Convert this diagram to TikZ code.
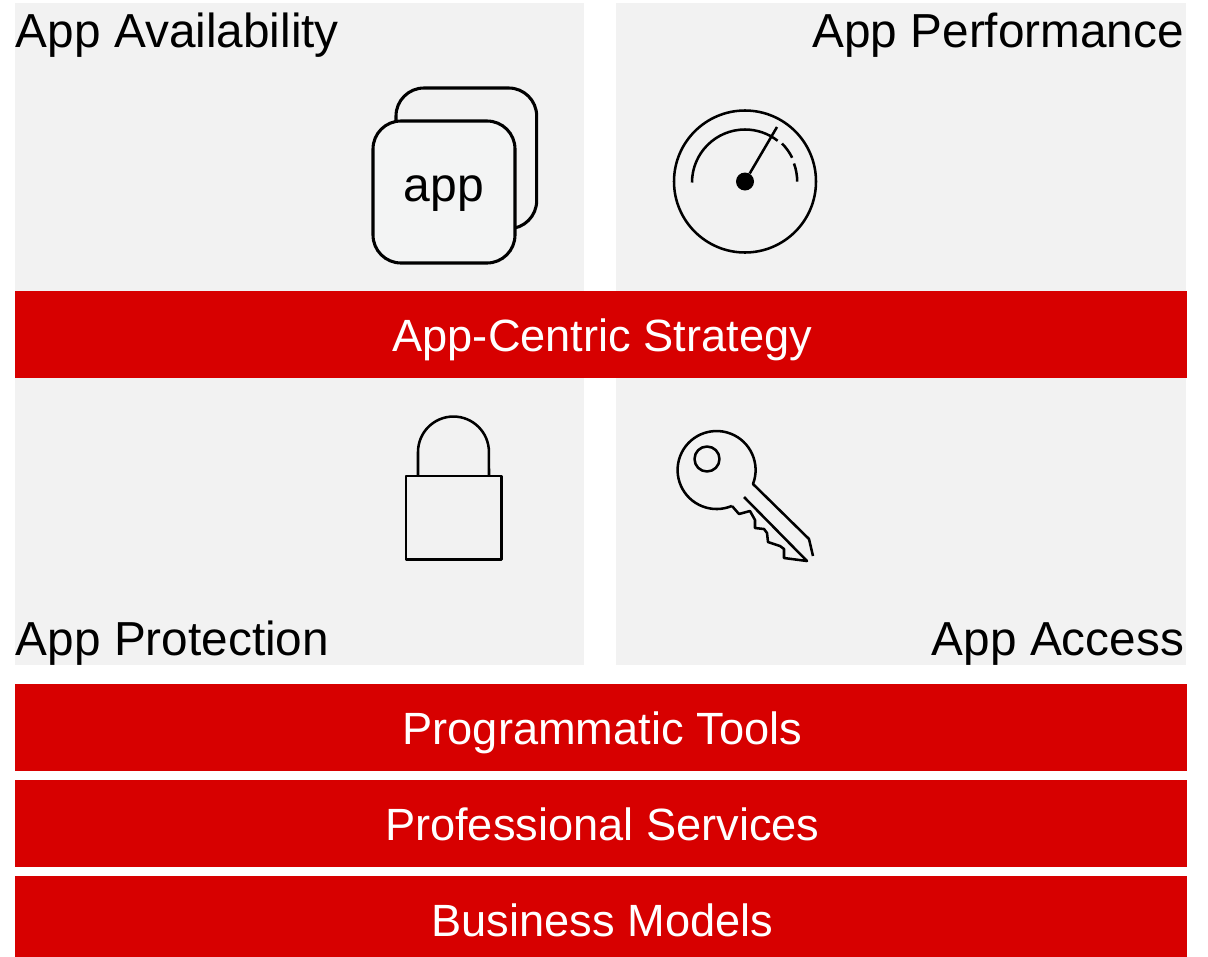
\documentclass[tikz,border=0pt]{standalone}
\usepackage{fontspec}
\setmainfont{Liberation Sans}
\usetikzlibrary{positioning}
\definecolor{bandred}{HTML}{D70000}
\definecolor{panelgray}{HTML}{F2F2F2}
\definecolor{appfill}{HTML}{F3F4F4}

\begin{document}
\begin{tikzpicture}[
  x=0.75pt, y=0.75pt,
  panel/.style={fill=panelgray, minimum width=427.5pt, minimum height=216pt, inner sep=0pt, outer sep=0pt},
  band/.style={fill=bandred, text=white, minimum width=879pt, minimum height=65.25pt, text height=45pt, text depth=20.25pt, inner sep=0pt, outer sep=0pt, font=\fontsize{33.9pt}{36pt}\selectfont, execute at begin node={\hspace*{2pt}}},
  caption/.style={font=\fontsize{35.8pt}{38pt}\selectfont, inner sep=0pt, outer sep=0pt},
  icon/.style={draw=black, line width=1.9pt, line join=round},
  appbox/.style={draw=black, line width=2.3pt, rounded corners=21pt, inner sep=0pt, outer sep=0pt, minimum size=106.5pt}
]
\useasboundingbox (0,0) rectangle (1208,-957);

% Strategy band
\node[band, anchor=north west] (strategy) at (15,-291) {App-Centric Strategy};

% Four panels round the strategy band
\node[panel, anchor=south west, minimum width=426.75pt] (avail) at (strategy.north west) {};
\node[panel, anchor=south east, xshift=-0.75pt] (perf) at (strategy.north east) {};
\node[panel, anchor=north west, minimum width=426.75pt, minimum height=215.25pt] (protect) at (strategy.south west) {};
\node[panel, anchor=north east, xshift=-0.75pt, minimum height=215.25pt] (access) at (strategy.south east) {};

% Lower bands
\node[band, below=229.5pt of strategy] (tools) {Programmatic Tools};
\node[band, below=6.75pt of tools] (services) {Professional Services};
\node[band, below=6.75pt of services, minimum height=60.75pt, text depth=15.75pt] (models) {Business Models};

% Panel captions
\node[caption, anchor=base west] (availtext) at (16,-47) {App Availability};
\node[caption, anchor=base east] (perftext) at (1184,-47) {App Performance};
\node[caption, anchor=base west] (protecttext) at (16,-655) {App Protection};
\node[caption, anchor=base east] (accesstext) at (1184,-655) {App Access};

% App icon
\node[appbox, anchor=north west, minimum size=105.5pt] (appback) at (396,-88) {};
\node[appbox, anchor=north west, fill=appfill, font=\fontsize{36pt}{38pt}\selectfont, text height=26pt, text depth=12pt] (appfront) at (373,-121) {app};

% Gauge icon
\node[icon, circle, inner sep=0pt, outer sep=0pt, minimum size=106.5pt] (dial) at (745,-181.5) {};
\node[circle, fill=black, inner sep=0pt, minimum size=13.5pt] (hub) at (745,-181.5) {};
\coordinate (tip) at (777,-127);
\draw[icon] (hub) -- (tip);
\draw[icon] (692,-182.5) arc[start angle=180, end angle=52, radius=39.75pt];
\draw[icon] (782,-143.5) arc[start angle=45, end angle=26, radius=39.75pt];
\draw[icon] (794,-163.5) arc[start angle=20, end angle=0, radius=39.75pt];

% Lock icon
\node[icon, anchor=north west, minimum width=71.75pt, minimum height=62.75pt, inner sep=0pt, outer sep=0pt] (lockbody) at (406,-476) {};
\draw[icon] (418,-476) -- (418,-452) arc[start angle=180, end angle=0, radius=26.6pt] -- (489,-476);

% Key icon
\node[icon, circle, inner sep=0pt, outer sep=0pt, minimum size=18.75pt] (keyhole) at (707,-459) {};
\draw[icon] (813,-556) -- (809,-539) -- (753,-484)
  arc[start angle=-21, end angle=293, radius=29.25pt];
\draw[icon] (744,-497) -- (807,-561) -- (784,-558) -- (784,-549) -- (780,-546) -- (768,-542)
  -- (767,-533) -- (764,-529) -- (755,-528) -- (755,-520) -- (750,-511) -- (739,-514) -- (732,-506);
\end{tikzpicture}
\end{document}
